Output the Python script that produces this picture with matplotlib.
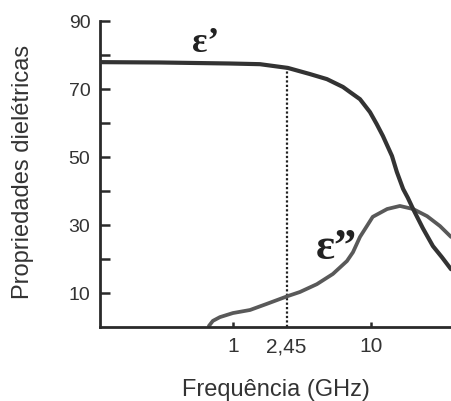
import matplotlib
matplotlib.use("Agg")
import matplotlib.pyplot as plt

# Data
eps1_freq = [0.109, 0.296, 0.951, 1.57, 2.5, 3.61, 4.8, 6.27, 7.05, 8.33, 9.84,
             11.0, 12.2, 14.2, 15.4, 17.1, 18.5, 20.2, 23.8, 28.1, 32.7, 38.0]
eps1_vals = [77.9, 77.8, 77.5, 77.3, 76.2, 74.4, 72.9, 70.6, 69.1, 67.0, 63.2,
             59.7, 56.2, 50.3, 45.6, 40.6, 38.0, 34.7, 29.0, 23.8, 20.5, 17.0]

eps2_freq = [0.67, 0.716, 0.805, 1.0, 1.33, 1.76, 2.5, 3.06, 4.06, 5.3, 6.7, 7.41,
             8.33, 9.35, 10.3, 13.1, 16.2, 20.2, 25.5, 31.6, 38.0]
eps2_vals = [0.3, 1.8, 2.9, 4.1, 5.0, 6.8, 9.1, 10.3, 12.6, 15.6, 19.4, 22.0,
             26.5, 29.7, 32.4, 34.7, 35.6, 34.7, 32.6, 29.7, 26.5]

marker_freq = 2.45
marker_top = 76.2

y_major = [10, 30, 50, 70, 90]
y_minor = [20, 40, 60, 80]
x_major = [1, 10]
x_major_labels = ["1", "10"]
x_mid_label = "2,45"

plt.rcParams['font.family'] = ['Liberation Sans', 'DejaVu Sans']

W, H = 451, 402
fig = plt.figure(figsize=(W/100, H/100), dpi=100)
ax = fig.add_axes([100/W, 1-328/H, 1-100/W, (328-22)/H])

ax.set_xscale('log')
ax.set_xlim(0.109, 38.0)
ax.set_ylim(0, 90)

ax.plot(eps1_freq, eps1_vals, color='#333333', lw=3.0, solid_capstyle='round',
        solid_joinstyle='round', zorder=3)
ax.plot(eps2_freq, eps2_vals, color='#595959', lw=2.7, solid_capstyle='round',
        solid_joinstyle='round', zorder=2)
ax.plot([marker_freq, marker_freq], [0, marker_top], color='#222222', lw=1.6,
        linestyle=(0, (1, 1)), zorder=1)

for s in ['top', 'right']:
    ax.spines[s].set_visible(False)
for s in ['left', 'bottom']:
    ax.spines[s].set_linewidth(2.0)
    ax.spines[s].set_color('#2a2a2a')

ax.set_yticks(y_major)
ax.set_yticks(y_minor, minor=True)
ax.set_xticks(x_major)
ax.set_xticklabels(x_major_labels)
ax.set_xticks([marker_freq], minor=True)
ax.set_xticklabels([x_mid_label], minor=True)

ax.tick_params(axis='y', which='both', direction='in', length=7.5, width=1.8,
               color='#2a2a2a', labelsize=14, labelcolor='#333333', pad=7)
ax.tick_params(axis='x', which='major', direction='in', length=3.5, width=1.8,
               color='#2a2a2a', labelsize=15, labelcolor='#333333', pad=6.5)
ax.tick_params(axis='x', which='minor', length=0, labelsize=15,
               labelcolor='#333333', pad=6.5)

fig.text(276/W, 1-396/H, "Frequência (GHz)", fontsize=17, color='#333333',
         ha='center', va='baseline')
fig.text(29/W, 1-172/H, "Propriedades dielétricas", fontsize=17, color='#333333',
         rotation=90, rotation_mode='anchor', ha='center', va='baseline')

fig.text(206/W, 1-44/H, "ε’", fontsize=26, fontweight='bold',
         family=['Liberation Serif', 'DejaVu Serif'], color='#222222',
         ha='center', va='center')
fig.text(336/W, 1-248/H, "ε”", fontsize=32, fontweight='bold',
         family=['Liberation Serif', 'DejaVu Serif'], color='#222222',
         ha='center', va='center')

fig.savefig("out.png", dpi=100)
